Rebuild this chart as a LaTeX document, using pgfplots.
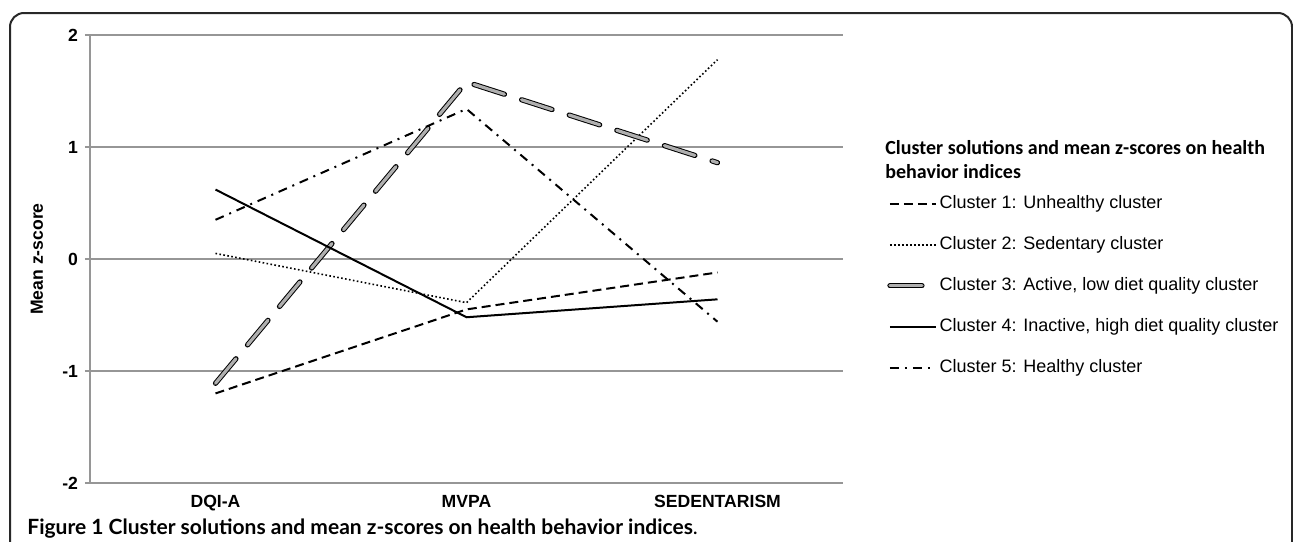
\documentclass[border=0pt]{standalone}
\usepackage{fontspec}
\setmainfont{Liberation Sans}
\newfontfamily\carlito{Carlito}
\newfontfamily\capfont{Lato}
\usepackage{pgfplots}
\pgfplotsset{compat=1.18}

\definecolor{gridgray}{RGB}{150,150,150}
\definecolor{fillgray}{RGB}{175,175,175}
\definecolor{framegray}{RGB}{40,40,40}

\begin{document}
\begin{tikzpicture}
\path[use as bounding box] (0,0) rectangle (646.5pt,-270.5pt);
\draw[framegray, line width=1pt, rounded corners=7pt]
  (5pt,-300pt) -- (5pt,-6.5pt) -- (646pt,-6.5pt) -- (646pt,-300pt);

\begin{axis}[
  at={(45pt,-241.5pt)}, anchor=south west,
  scale only axis, width=376.5pt, height=224pt,
  xmin=-0.5, xmax=2.5, ymin=-2, ymax=2,
  axis lines=left,
  axis line style={gridgray, line width=0.6pt, -},
  xtick={0,1,2},
  xticklabels={DQI-A,MVPA,SEDENTARISM},
  xtick style={draw=none},
  ytick={-2,-1,0,1,2},
  yticklabels={-2,-1,0,1,2},
  ytick style={gridgray, line width=0.6pt},
  tick align=outside,
  major tick length=2.5pt,
  ymajorgrids,
  grid style={gridgray, line width=0.6pt},
  ticklabel style={font=\fontsize{8.8}{10}\selectfont\bfseries},
  ylabel={Mean z-score},
  every axis y label/.style={at={(axis description cs:-0.0704,0.5)}, rotate=90,
    anchor=center, font=\fontsize{8.8}{10}\selectfont\bfseries},
  legend image code/.code={\draw[#1] (0pt,0pt) -- (23pt,0pt);},
  legend cell align=left,
  legend style={
    at={(axis description cs:1.0584,0.643)}, anchor=north west,
    draw=none, fill=none, inner sep=0pt,
    font=\fontsize{9}{11}\selectfont,
    row sep=12pt,
    nodes={inner sep=0pt, inner xsep=0.5pt, text height=6.5pt, text depth=2pt},
  },
]
\addplot[black, line width=1pt, dash pattern=on 4.5pt off 2.5pt]
  coordinates {(0,-1.20) (1,-0.45) (2,-0.12)};
\addlegendentry{Cluster 1: Unhealthy cluster}
\addplot[black, line width=0.8pt, dash pattern=on 0.8pt off 1.2pt]
  coordinates {(0,0.05) (1,-0.39) (2,1.78)};
\addlegendentry{Cluster 2: Sedentary cluster}
\addplot[black, line width=0.5pt, double=fillgray, double distance=1.6pt,
  dash pattern=on 16pt off 9pt, line cap=round, line join=round]
  coordinates {(0,-1.11) (1,1.58) (2,0.86)};
\addlegendentry{Cluster 3: Active, low diet quality cluster}
\addplot[black, line width=1pt]
  coordinates {(0,0.62) (1,-0.52) (2,-0.36)};
\addlegendentry{Cluster 4: Inactive, high diet quality cluster}
\addplot[black, line width=1pt, dash pattern=on 4.5pt off 3pt on 1pt off 3pt]
  coordinates {(0,0.35) (1,1.34) (2,-0.56)};
\addlegendentry{Cluster 5: Healthy cluster}
\end{axis}

\node[anchor=base west, inner sep=0pt, font=\carlito\fontsize{10}{12}\selectfont\bfseries]
  at (442.5pt,-77.25pt) {Cluster solutions and mean z-scores on health};
\node[anchor=base west, inner sep=0pt, font=\carlito\fontsize{10}{12}\selectfont\bfseries]
  at (442.5pt,-89.25pt) {behavior indices};
\node[anchor=base west, inner sep=0pt, font=\capfont\fontsize{10.5}{12}\selectfont]
  at (13.5pt,-267pt) {\bfseries Figure 1 Cluster solutions and mean z-scores on health behavior indices\mdseries .};
\end{tikzpicture}
\end{document}
